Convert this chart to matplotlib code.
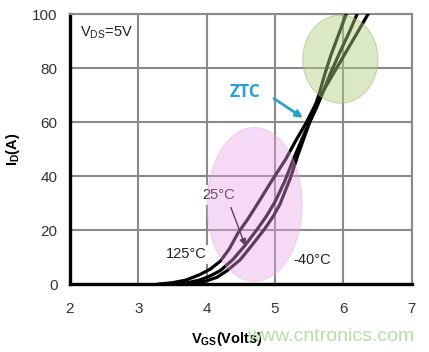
import matplotlib
matplotlib.use("Agg")
import matplotlib.pyplot as plt
from matplotlib.patches import Ellipse

plt.rcParams["font.family"] = ["Liberation Sans", "DejaVu Sans"]
plt.rcParams["mathtext.fontset"] = "custom"
plt.rcParams["mathtext.rm"] = "Liberation Sans"
plt.rcParams["mathtext.default"] = "regular"

# transfer curves: (Vgs, Id)
vgs_125 = [3.30, 3.50, 3.70, 3.90, 4.05, 4.20, 4.33, 4.46, 4.60, 4.75, 4.97, 5.15,
           5.30, 5.45, 5.60, 5.75, 5.90, 6.05, 6.20, 6.36]
id_125 = [0, 0.5, 1.5, 3.5, 5.5, 8.5, 13, 19, 24, 30, 39, 46,
          53, 59.5, 67, 73.5, 80, 86.5, 93, 100]

vgs_25 = [3.50, 3.70, 3.90, 4.05, 4.20, 4.38, 4.55, 4.73, 4.87, 5.00, 5.14, 5.28,
          5.45, 5.60, 5.70, 5.80, 5.95, 6.08, 6.20]
id_25 = [0, 0.4, 1.5, 3, 5, 9, 14, 20, 25, 30.5, 38, 47,
         57, 65, 71, 77.5, 86, 93, 100]

vgs_m40 = [3.65, 3.85, 4.00, 4.15, 4.30, 4.49, 4.65, 4.85, 4.97, 5.07, 5.22, 5.33,
           5.45, 5.55, 5.65, 5.73, 5.82, 5.93, 6.04]
id_m40 = [0, 0.3, 1.2, 2.5, 5, 9, 14, 20.5, 25, 29.5, 39, 47.5,
          56, 63, 71, 78, 85, 92.5, 100]

x_ticks = [2, 3, 4, 5, 6, 7]
y_ticks = [0, 20, 40, 60, 80, 100]

fig = plt.figure(figsize=(4.29, 3.52), dpi=100)
ax = fig.add_axes([0.163, 0.193, 0.797, 0.767])

for v, i in [(vgs_125, id_125), (vgs_25, id_25), (vgs_m40, id_m40)]:
    ax.plot(v, i, color="black", linewidth=2.3, zorder=3)

# highlight regions
ax.add_patch(Ellipse((4.70, 29.5), 1.39, 57, facecolor="#e9a0e6", alpha=0.4,
                     edgecolor="#e0a8dc", linewidth=0.8, zorder=4))
ax.add_patch(Ellipse((5.955, 83.3), 1.10, 32.6, facecolor="#b0d080", alpha=0.45,
                     edgecolor="#98b070", linewidth=0.8, zorder=4))

box = dict(facecolor="white", edgecolor="none", pad=2)
ax.text(2.15, 93, r"$V_{DS}$=5V", fontsize=10.5, color="#222222", va="center",
        bbox=box, zorder=2)
ax.text(4.0, 11, "125°C", fontsize=10.5, color="#222222", ha="right", va="center",
        bbox=box, zorder=2)
ax.text(4.18, 33, "25°C", fontsize=10.5, color="#222222", ha="center", va="center",
        bbox=box, zorder=2)
ax.text(5.55, 9, "-40°C", fontsize=10.5, color="#222222", ha="center", va="center",
        zorder=2)
ax.annotate("", xy=(4.58, 13.2), xytext=(4.34, 29.3),
            arrowprops=dict(arrowstyle="-|>", color="black", lw=1.0,
                            mutation_scale=10), zorder=3)

ax.text(4.56, 71, "ZTC", fontsize=12.5, fontweight="bold", color="#2aa0cf",
        family="Open Sans", ha="center", va="center", zorder=5)
ax.annotate("", xy=(5.44, 61.0), xytext=(4.95, 69.3),
            arrowprops=dict(arrowstyle="-|>", color="#2aa0cf", lw=2.0,
                            mutation_scale=10), zorder=5)

ax.set_xlim(2, 7)
ax.set_ylim(0, 100)
ax.set_xticks(x_ticks)
ax.set_yticks(y_ticks)
ax.tick_params(length=0, labelsize=11, labelcolor="#333333")
ax.tick_params(axis="x", pad=13)
ax.tick_params(axis="y", pad=9)
ax.grid(True, color="#8a8a8a", linewidth=1.5, zorder=1)
ax.set_axisbelow(True)

for side in ["top", "right"]:
    ax.spines[side].set_color("#8a8a8a")
    ax.spines[side].set_linewidth(1.5)
for side in ["left", "bottom"]:
    ax.spines[side].set_color("black")
    ax.spines[side].set_linewidth(2.4)

ax.set_xlabel(r"$V_{GS}$(Volts)", fontsize=10.5, fontweight="bold", labelpad=10, x=0.459)
ax.set_ylabel(r"$I_D$(A)", fontsize=10.5, fontweight="bold", labelpad=7)

fig.text(0.77, 0.045, "www.cntronics.com", fontsize=14, color="#b8dcaa",
         ha="center", va="center", zorder=0)

fig.savefig("out.png", dpi=100)
